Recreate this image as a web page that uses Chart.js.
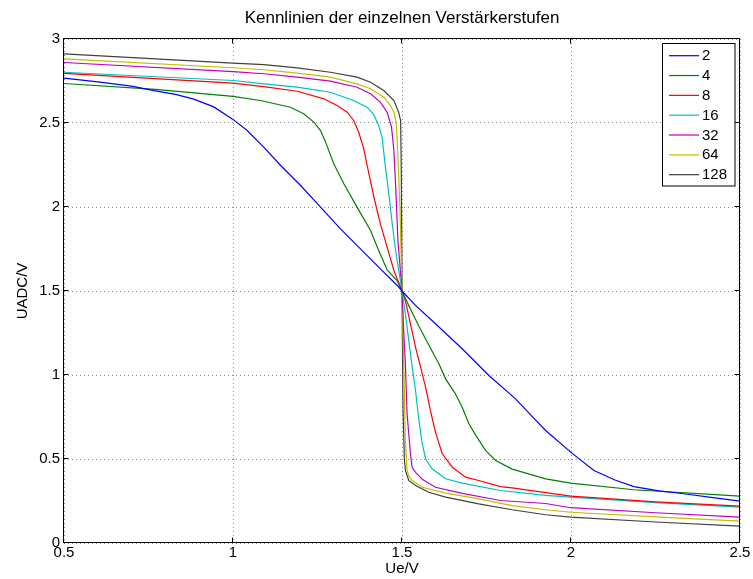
<!DOCTYPE html>
<html>
<head>
<meta charset="utf-8">
<title>Kennlinien der einzelnen Verstärkerstufen</title>
<script src="https://cdn.jsdelivr.net/npm/chart.js@4/dist/chart.umd.min.js"></script>
<style>
  html, body { margin: 0; padding: 0; background: #ffffff; }
  #wrap { width: 753px; height: 579px; }
</style>
</head>
<body>
<div id="wrap"><canvas id="c" width="753" height="579"></canvas></div>
<script>
// Plot title
const chartTitle = 'Kennlinien der einzelnen Verstärkerstufen';

// Gain stages (legend labels)
const gainLabels = ['2', '4', '8', '16', '32', '64', '128'];

// Input voltage Ue (V) and output UADC (V) per gain stage
const ueGain2 = [0.5, 0.6, 0.7, 0.766, 0.83, 0.884, 0.943, 0.999, 1.042, 1.091, 1.141, 1.2, 1.259, 1.318, 1.377, 1.436, 1.486, 1.5, 1.54, 1.599, 1.678, 1.757, 1.836, 1.889, 1.925, 1.999, 2.068, 2.13, 2.186, 2.26, 2.334, 2.42, 2.5];
const uadcGain2 = [2.767, 2.745, 2.72, 2.693, 2.67, 2.642, 2.596, 2.523, 2.455, 2.356, 2.247, 2.128, 1.999, 1.87, 1.751, 1.632, 1.533, 1.5, 1.414, 1.305, 1.156, 0.997, 0.858, 0.745, 0.67, 0.541, 0.432, 0.375, 0.336, 0.31, 0.293, 0.27, 0.249];

const ueGain4 = [0.5, 0.77, 1.0, 1.081, 1.17, 1.209, 1.239, 1.259, 1.274, 1.298, 1.328, 1.367, 1.407, 1.427, 1.456, 1.486, 1.5, 1.52, 1.55, 1.579, 1.609, 1.629, 1.658, 1.678, 1.698, 1.717, 1.747, 1.777, 1.826, 1.925, 1.999, 2.186, 2.5];
const uadcGain4 = [2.735, 2.7, 2.658, 2.634, 2.594, 2.555, 2.505, 2.455, 2.386, 2.257, 2.138, 1.999, 1.86, 1.761, 1.625, 1.56, 1.5, 1.414, 1.29, 1.18, 1.067, 0.977, 0.888, 0.808, 0.71, 0.645, 0.551, 0.491, 0.44, 0.382, 0.356, 0.317, 0.279];

const ueGain8 = [0.5, 1.0, 1.091, 1.19, 1.269, 1.308, 1.338, 1.357, 1.372, 1.387, 1.402, 1.417, 1.436, 1.456, 1.476, 1.5, 1.51, 1.525, 1.54, 1.555, 1.57, 1.584, 1.599, 1.619, 1.649, 1.688, 1.727, 1.791, 1.826, 1.999, 2.25, 2.5];
const uadcGain8 = [2.795, 2.737, 2.717, 2.689, 2.644, 2.604, 2.564, 2.515, 2.445, 2.345, 2.198, 2.058, 1.9, 1.761, 1.622, 1.5, 1.443, 1.305, 1.166, 1.047, 0.927, 0.789, 0.66, 0.531, 0.451, 0.392, 0.372, 0.336, 0.328, 0.279, 0.245, 0.219];

const ueGain16 = [0.5, 1.0, 1.091, 1.19, 1.288, 1.357, 1.397, 1.417, 1.431, 1.441, 1.451, 1.461, 1.471, 1.481, 1.5, 1.51, 1.525, 1.54, 1.55, 1.56, 1.57, 1.589, 1.629, 1.678, 1.791, 1.925, 1.999, 2.25, 2.5];
const uadcGain16 = [2.802, 2.753, 2.733, 2.713, 2.683, 2.634, 2.594, 2.548, 2.485, 2.415, 2.237, 2.079, 1.9, 1.741, 1.5, 1.364, 1.126, 0.908, 0.729, 0.59, 0.5, 0.442, 0.382, 0.356, 0.3125, 0.283, 0.273, 0.24, 0.213];

const ueGain32 = [0.5, 1.0, 1.091, 1.19, 1.288, 1.367, 1.407, 1.436, 1.456, 1.469, 1.476, 1.481, 1.488, 1.5, 1.505, 1.51, 1.515, 1.525, 1.53, 1.54, 1.56, 1.599, 1.678, 1.791, 1.925, 1.999, 2.25, 2.5];
const uadcGain32 = [2.86, 2.806, 2.793, 2.773, 2.749, 2.713, 2.674, 2.624, 2.564, 2.475, 2.336, 2.138, 1.8, 1.5, 1.265, 1.067, 0.769, 0.531, 0.45, 0.42, 0.38, 0.332, 0.295, 0.253, 0.235, 0.21, 0.18, 0.154];

const ueGain64 = [0.5, 1.0, 1.091, 1.19, 1.288, 1.367, 1.407, 1.446, 1.466, 1.476, 1.483, 1.488, 1.494, 1.5, 1.506, 1.51, 1.515, 1.52, 1.53, 1.56, 1.629, 1.727, 1.826, 1.925, 1.999, 2.25, 2.5];
const uadcGain64 = [2.882, 2.829, 2.817, 2.797, 2.773, 2.733, 2.704, 2.654, 2.604, 2.564, 2.495, 2.3, 2.0, 1.5, 1.0, 0.6, 0.432, 0.4, 0.372, 0.332, 0.297, 0.263, 0.222, 0.198, 0.183, 0.155, 0.13];

const ueGain128 = [0.5, 1.0, 1.091, 1.19, 1.288, 1.367, 1.407, 1.446, 1.476, 1.49, 1.496, 1.498, 1.5, 1.503, 1.507, 1.51, 1.52, 1.54, 1.579, 1.629, 1.727, 1.826, 1.925, 1.999, 2.25, 2.5];
const uadcGain128 = [2.912, 2.856, 2.848, 2.828, 2.802, 2.773, 2.743, 2.693, 2.634, 2.564, 2.515, 2.2, 1.5, 0.8, 0.5, 0.432, 0.372, 0.342, 0.302, 0.273, 0.233, 0.198, 0.168, 0.154, 0.125, 0.1];

// Axis tick labels
const xTickLabels = ['0.5', '1', '1.5', '2', '2.5'];
const yTickLabels = ['0', '0.5', '1', '1.5', '2', '2.5', '3'];

const ueSeries = [ueGain2, ueGain4, ueGain8, ueGain16, ueGain32, ueGain64, ueGain128];
const uadcSeries = [uadcGain2, uadcGain4, uadcGain8, uadcGain16, uadcGain32, uadcGain64, uadcGain128];
const lineColors = ['#0000ff', '#008000', '#ff0000', '#00bfbf', '#bf00bf', '#bfbf00', '#404040'];

const FONT = '"Liberation Sans", Arial, Helvetica, sans-serif';

const datasets = gainLabels.map((label, i) => ({
  label: label,
  data: ueSeries[i].map((x, j) => ({ x: x, y: uadcSeries[i][j] })),
  borderColor: lineColors[i],
  backgroundColor: lineColors[i],
  borderWidth: 1.2,
  pointRadius: 0,
  tension: 0,
  fill: false
}));

// Axes box, inward tick marks on all four sides, title centred over the axes, boxed legend
const framePlugin = {
  id: 'frame',
  afterDatasetsDraw(chart) {
    const { ctx, chartArea: a, scales } = chart;
    ctx.save();
    ctx.strokeStyle = '#000000';
    ctx.lineWidth = 1;
    const L = a.left - 0.5, R = a.right - 0.5, T = a.top - 0.5, B = a.bottom - 0.5;
    ctx.beginPath();
    ctx.rect(L, T, R - L, B - T);
    ctx.stroke();
    const len = 5;
    ctx.beginPath();
    scales.x.ticks.forEach(t => {
      const p = Math.round(scales.x.getPixelForValue(t.value)) - 0.5;
      ctx.moveTo(p, B); ctx.lineTo(p, B - len);
      ctx.moveTo(p, T); ctx.lineTo(p, T + len);
    });
    scales.y.ticks.forEach(t => {
      const p = Math.round(scales.y.getPixelForValue(t.value)) - 0.5;
      ctx.moveTo(L, p); ctx.lineTo(L + len, p);
      ctx.moveTo(R, p); ctx.lineTo(R - len, p);
    });
    ctx.stroke();
    ctx.restore();
  },
  afterDraw(chart) {
    const { ctx, chartArea: a } = chart;
    ctx.save();
    ctx.fillStyle = '#000000';
    ctx.font = '17px ' + FONT;
    ctx.textAlign = 'center';
    ctx.textBaseline = 'middle';
    ctx.fillText(chartTitle, (a.left + a.right) / 2, 18);

    const boxL = 662.5, boxT = 43.5, boxW = 72.5, boxH = 142.5;
    ctx.fillStyle = '#ffffff';
    ctx.fillRect(boxL, boxT, boxW, boxH);
    ctx.strokeStyle = '#000000';
    ctx.lineWidth = 1;
    ctx.strokeRect(boxL, boxT, boxW, boxH);
    ctx.font = '15px ' + FONT;
    ctx.textBaseline = 'middle';
    ctx.textAlign = 'left';
    chart.data.datasets.forEach((ds, i) => {
      const y = 55.7 + i * 19.83;
      ctx.strokeStyle = ds.borderColor;
      ctx.lineWidth = 1.2;
      ctx.beginPath();
      ctx.moveTo(669, y);
      ctx.lineTo(699, y);
      ctx.stroke();
      ctx.fillStyle = '#000000';
      ctx.fillText(ds.label, 702, y + 0.5);
    });
    ctx.restore();
  }
};

new Chart(document.getElementById('c'), {
  type: 'line',
  data: { datasets: datasets },
  plugins: [framePlugin],
  options: {
    responsive: false,
    animation: false,
    events: [],
    layout: { padding: { left: 0, right: 13, top: 39, bottom: 0 } },
    plugins: {
      legend: { display: false },
      tooltip: { enabled: false },
      title: { display: false }
    },
    scales: {
      x: {
        type: 'linear',
        min: 0.5,
        max: 2.5,
        afterBuildTicks(scale) {
          scale.ticks = xTickLabels.map(s => ({ value: parseFloat(s) }));
        },
        afterFit(scale) { scale.height = 36; },
        ticks: {
          color: '#000000',
          padding: 1,
          maxRotation: 0,
          autoSkip: false,
          font: { family: FONT, size: 15 },
          callback(value) {
            const s = xTickLabels.find(l => parseFloat(l) === value);
            return s !== undefined ? s : '';
          }
        },
        grid: { color: '#8a8a8a', lineWidth: 1, drawTicks: false },
        border: { display: false, dash: [1, 3] },
        title: {
          display: true,
          text: 'Ue/V',
          color: '#000000',
          font: { family: FONT, size: 15 },
          padding: { top: 0, bottom: 1 }
        }
      },
      y: {
        type: 'linear',
        min: 0,
        max: 3,
        afterBuildTicks(scale) {
          scale.ticks = yTickLabels.map(s => ({ value: parseFloat(s) }));
        },
        afterFit(scale) { scale.width = 64; },
        ticks: {
          color: '#000000',
          padding: 4,
          autoSkip: false,
          font: { family: FONT, size: 15 },
          callback(value) {
            const s = yTickLabels.find(l => parseFloat(l) === value);
            return s !== undefined ? s : '';
          }
        },
        grid: { color: '#8a8a8a', lineWidth: 1, drawTicks: false },
        border: { display: false, dash: [1, 3] },
        title: {
          display: true,
          text: 'UADC/V',
          color: '#000000',
          font: { family: FONT, size: 15 },
          padding: { top: 14, bottom: 0 }
        }
      }
    }
  }
});
</script>
</body>
</html>
